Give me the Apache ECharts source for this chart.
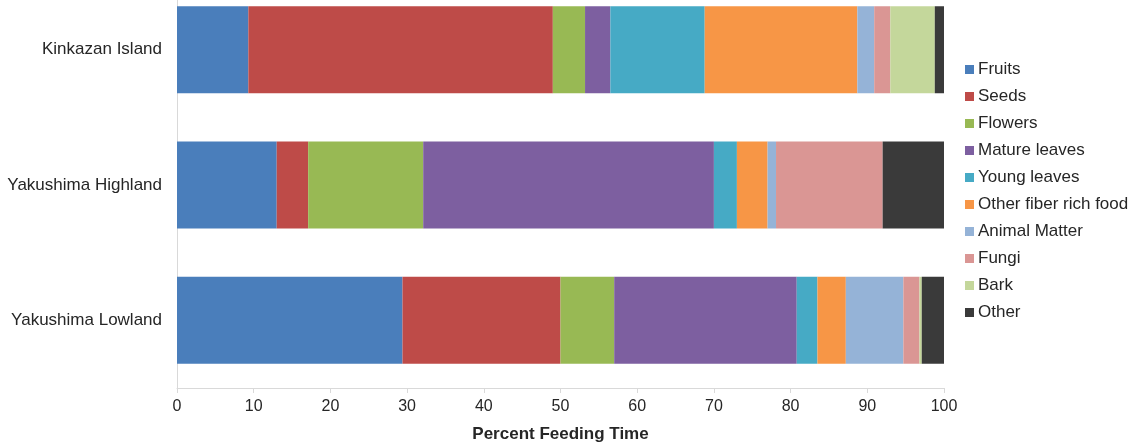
<!DOCTYPE html>
<html>
<head>
<meta charset="utf-8">
<style>
  html, body { margin: 0; padding: 0; background: #fff; }
  #chart { width: 1130px; height: 444px; }
</style>
<script src="https://cdn.jsdelivr.net/npm/echarts@6/dist/echarts.min.js"></script>
</head>
<body>
<div id="chart"></div>
<script>
// Sites (top to bottom)
const sites = ['Kinkazan Island', 'Yakushima Highland', 'Yakushima Lowland'];

// Percent feeding time per food category, in site order
const fruits       = [9.3, 13.0, 29.4];
const seeds        = [39.7, 4.1, 20.6];
const flowers      = [4.2, 15.0, 7.0];
const matureLeaves = [3.3, 37.9, 23.8];
const youngLeaves  = [12.3, 3.0, 2.7];
const otherFiber   = [19.9, 4.0, 3.7];
const animalMatter = [2.2, 1.1, 7.5];
const fungi        = [2.1, 13.9, 2.1];
const bark         = [5.8, 0.0, 0.3];
const other        = [1.2, 8.0, 2.9];

const xTicks = [0, 10, 20, 30, 40, 50, 60, 70, 80, 90, 100];

const categories = [
  { name: 'Fruits', data: fruits, color: '#4a7ebb' },
  { name: 'Seeds', data: seeds, color: '#be4b48' },
  { name: 'Flowers', data: flowers, color: '#98b954' },
  { name: 'Mature leaves', data: matureLeaves, color: '#7d5fa0' },
  { name: 'Young leaves', data: youngLeaves, color: '#46aac5' },
  { name: 'Other fiber rich food', data: otherFiber, color: '#f79646' },
  { name: 'Animal Matter', data: animalMatter, color: '#95b3d7' },
  { name: 'Fungi', data: fungi, color: '#da9694' },
  { name: 'Bark', data: bark, color: '#c4d79b' },
  { name: 'Other', data: other, color: '#3a3a3a' }
];

const chart = echarts.init(document.getElementById('chart'), null, { renderer: 'canvas' });

chart.setOption({
  animation: false,
  backgroundColor: '#ffffff',
  textStyle: { fontFamily: 'Liberation Sans, Arial, sans-serif' },
  // The plot area runs past the top edge so that the first band is clipped
  grid: { left: 177, right: 186, top: -18, bottom: 56, containLabel: false, outerBoundsMode: 'none' },
  legend: {
    orient: 'vertical',
    left: 965,
    top: 61,
    padding: 0,
    itemWidth: 9,
    itemHeight: 9,
    itemGap: 10,
    icon: 'rect',
    textStyle: { fontSize: 17, color: '#262626', lineHeight: 17, padding: [0, 0, 0, -1] },
    data: categories.map(c => c.name)
  },
  xAxis: {
    type: 'value',
    min: 0,
    max: 100,
    interval: 10,
    name: 'Percent Feeding Time',
    nameLocation: 'middle',
    nameGap: 38,
    nameTextStyle: { fontSize: 17, fontWeight: 'bold', color: '#262626' },
    axisLine: { show: true, lineStyle: { color: '#d9d9d9', width: 1 } },
    axisTick: { show: true, length: 5, lineStyle: { color: '#d9d9d9' } },
    axisLabel: {
      fontSize: 16,
      color: '#262626',
      margin: 11,
      formatter: v => (xTicks.includes(v) ? String(v) : '')
    },
    splitLine: { show: false }
  },
  yAxis: {
    type: 'category',
    inverse: true,
    data: sites,
    axisLine: { show: true, lineStyle: { color: '#d9d9d9', width: 1 } },
    axisTick: { show: false },
    axisLabel: { fontSize: 17, color: '#262626', margin: 15 }
  },
  series: categories.map(c => ({
    name: c.name,
    type: 'bar',
    stack: 'total',
    barWidth: 87,
    data: c.data,
    itemStyle: { color: c.color },
    emphasis: { disabled: true }
  }))
});
</script>
</body>
</html>
